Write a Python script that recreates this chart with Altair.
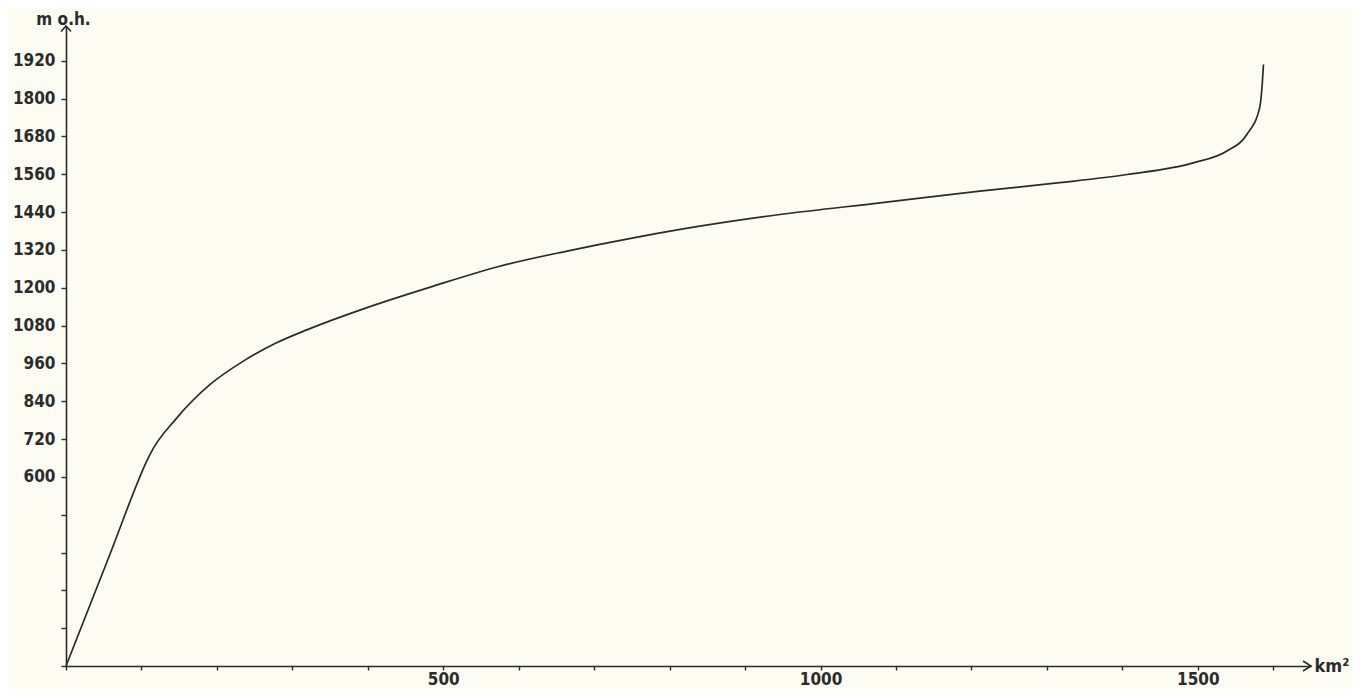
import altair as alt
import pandas as pd

# Hypsographic curve: area (km²) above each elevation (m o.h.)
area_km2 = [0, 58, 107, 111, 147, 191, 235, 279, 320, 398, 487, 575, 664, 752,
            840, 946, 1079, 1211, 1317, 1406, 1494, 1538, 1565, 1582, 1585, 1587]
elev_m = [0, 353, 650, 670, 787, 893, 967, 1025, 1067, 1136, 1205, 1268, 1316, 1358,
          1395, 1432, 1469, 1506, 1533, 1559, 1596, 1633, 1686, 1771, 1834, 1908]

x_ticks = list(range(0, 1601, 100))
x_labelled = [500, 1000, 1500]
y_ticks = list(range(0, 1921, 120))
y_min_label = 600

X_MAX = 1650
Y_MAX = 2030

df = pd.DataFrame({"area": area_km2, "elev": elev_m})

font = "DejaVu Sans Condensed, DejaVu Sans"
ink = "#2b2b2b"

x_scale = alt.Scale(domain=[0, X_MAX], nice=False, zero=True)
y_scale = alt.Scale(domain=[0, Y_MAX], nice=False, zero=True)

x_axis = alt.Axis(
    values=x_ticks,
    labelExpr="indexof([" + ",".join(str(v) for v in x_labelled) + "], datum.value) >= 0 ? datum.label : ''",
    format="d",
    grid=False,
    labelOverlap=False,
    domainColor=ink, domainWidth=1.6,
    tickColor=ink, tickWidth=1.4, tickSize=4,
    labelFont=font, labelFontSize=17, labelFontWeight="bold", labelColor=ink,
    labelPadding=1,
    title="km²", titleFont=font, titleFontSize=18, titleFontWeight="bold",
    titleColor=ink, titleAngle=0, titleAlign="left", titleBaseline="middle",
    titleX=1248, titleY=0,
)
y_axis = alt.Axis(
    values=y_ticks,
    labelExpr=f"datum.value >= {y_min_label} ? datum.label : ''",
    format="d",
    grid=False,
    labelOverlap=False,
    labelFlush=False,
    domainColor=ink, domainWidth=1.6,
    tickColor=ink, tickWidth=1.4, tickSize=5,
    labelFont=font, labelFontSize=17, labelFontWeight="bold", labelColor=ink,
    labelPadding=6,
    title="m o.h.", titleFont=font, titleFontSize=17, titleFontWeight="bold",
    titleColor=ink, titleAngle=0, titleAlign="center", titleBaseline="middle",
    titleX=-3, titleY=-7,
)

curve = alt.Chart(df).mark_line(
    color=ink, strokeWidth=1.7, interpolate="monotone"
).encode(
    x=alt.X("area:Q", scale=x_scale, axis=x_axis),
    y=alt.Y("elev:Q", scale=y_scale, axis=y_axis),
)

arrows_df = pd.DataFrame({
    "area": [0, X_MAX],
    "elev": [Y_MAX, 0],
    "shape": ["M-1,1.1L0,0L1,1.1", "M-1.6,-1L0,0L-1.6,1"],
})
arrows = alt.Chart(arrows_df).mark_point(
    filled=False, color=ink, strokeWidth=1.6, size=100, opacity=1
).encode(
    x=alt.X("area:Q", scale=x_scale, axis=x_axis),
    y=alt.Y("elev:Q", scale=y_scale, axis=y_axis),
    shape=alt.Shape("shape:N", scale=None, legend=None),
)

chart = (curve + arrows).properties(
    width=1245,
    height=640,
    background="#fcfcf2",
    autosize=alt.AutoSizeParams(type="none"),
    padding={"left": 58, "top": 18, "right": 42, "bottom": 23},
).configure_view(stroke=None).configure_axis(labelOverlap=False)

chart.save("out.html", embed_options={"renderer": "svg", "actions": False})
